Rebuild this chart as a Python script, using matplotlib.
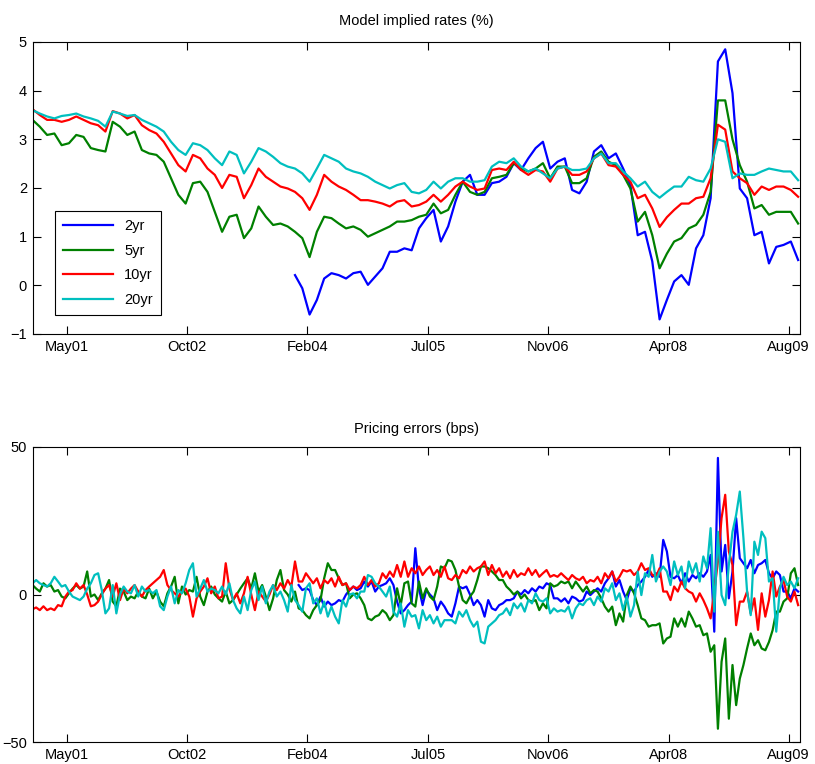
import numpy as np
import matplotlib
matplotlib.use("Agg")
import matplotlib.pyplot as plt

plt.rcParams['font.family'] = ['Liberation Sans', 'DejaVu Sans']

# monthly model implied rates (%), first point early Dec 2000
rate_start = 2000.94
rates_2yr = [np.nan] * 36 + [
    0.21, -0.06, -0.60, -0.30,
    0.14, 0.25, 0.21, 0.14, 0.25, 0.28, 0.01, 0.18, 0.35, 0.69,
    0.69, 0.76, 0.72, 1.17, 1.38, 1.55, 0.90, 1.21, 1.72, 2.13,
    2.27, 1.86, 1.86, 2.10, 2.13, 2.23, 2.51, 2.37, 2.61, 2.82,
    2.95, 2.40, 2.54, 2.61, 1.96, 1.89, 2.13, 2.75, 2.88, 2.61,
    2.71, 2.40, 2.06, 1.03, 1.10, 0.49, -0.70, -0.30, 0.08, 0.21,
    0.01, 0.76, 1.03, 1.79, 4.60, 4.85, 3.95, 1.99, 1.79, 1.03,
    1.10, 0.45, 0.79, 0.83, 0.90, 0.52]
rates_5yr = [
    3.40, 3.26, 3.09, 3.12, 2.88, 2.92, 3.09, 3.05, 2.82, 2.78,
    2.75, 3.36, 3.26, 3.09, 3.16, 2.78, 2.71, 2.68, 2.54, 2.20,
    1.86, 1.68, 2.10, 2.13, 1.92, 1.51, 1.10, 1.41, 1.45, 0.97,
    1.17, 1.62, 1.41, 1.24, 1.27, 1.21, 1.10, 0.97, 0.58, 1.10,
    1.41, 1.38, 1.27, 1.17, 1.21, 1.14, 1.00, 1.07, 1.14, 1.21,
    1.31, 1.31, 1.34, 1.41, 1.45, 1.68, 1.48, 1.55, 1.86, 2.13,
    1.92, 1.86, 1.92, 2.20, 2.23, 2.27, 2.51, 2.40, 2.34, 2.40,
    2.51, 2.20, 2.44, 2.44, 2.10, 2.10, 2.20, 2.64, 2.75, 2.54,
    2.47, 2.27, 1.99, 1.31, 1.51, 1.03, 0.35, 0.65, 0.90, 0.97,
    1.17, 1.24, 1.45, 1.92, 3.80, 3.80, 3.00, 2.47, 2.13, 1.58,
    1.65, 1.45, 1.51, 1.51, 1.51, 1.27]
rates_10yr = [
    3.62, 3.50, 3.40, 3.40, 3.36, 3.40, 3.47, 3.40, 3.33, 3.29,
    3.16, 3.58, 3.53, 3.43, 3.50, 3.29, 3.19, 3.12, 2.95, 2.71,
    2.47, 2.34, 2.68, 2.61, 2.40, 2.27, 2.00, 2.27, 2.23, 1.79,
    2.06, 2.40, 2.23, 2.13, 2.03, 1.99, 1.92, 1.79, 1.55, 1.86,
    2.27, 2.13, 2.03, 1.96, 1.86, 1.75, 1.75, 1.72, 1.68, 1.62,
    1.72, 1.75, 1.62, 1.65, 1.72, 1.86, 1.72, 1.86, 2.03, 2.13,
    2.03, 1.96, 1.99, 2.37, 2.40, 2.37, 2.54, 2.37, 2.27, 2.37,
    2.34, 2.13, 2.40, 2.44, 2.27, 2.27, 2.34, 2.61, 2.71, 2.47,
    2.44, 2.27, 2.13, 1.79, 1.86, 1.58, 1.20, 1.40, 1.55, 1.68,
    1.68, 1.79, 1.82, 2.20, 3.30, 3.20, 2.34, 2.20, 2.10, 1.86,
    2.03, 1.96, 2.03, 2.03, 1.96, 1.82]
rates_20yr = [
    3.60, 3.53, 3.47, 3.43, 3.48, 3.50, 3.53, 3.47, 3.43, 3.38,
    3.26, 3.57, 3.53, 3.48, 3.50, 3.40, 3.33, 3.26, 3.16, 2.95,
    2.78, 2.68, 2.92, 2.88, 2.78, 2.61, 2.47, 2.75, 2.68, 2.30,
    2.54, 2.82, 2.75, 2.64, 2.51, 2.44, 2.40, 2.30, 2.13, 2.40,
    2.68, 2.61, 2.54, 2.40, 2.34, 2.30, 2.23, 2.13, 2.06, 1.99,
    2.06, 2.10, 1.92, 1.89, 1.96, 2.13, 1.99, 2.13, 2.20, 2.20,
    2.13, 2.13, 2.16, 2.44, 2.54, 2.51, 2.61, 2.44, 2.34, 2.40,
    2.30, 2.20, 2.40, 2.44, 2.37, 2.37, 2.40, 2.61, 2.71, 2.51,
    2.51, 2.34, 2.20, 2.03, 2.13, 1.92, 1.80, 1.92, 2.03, 2.03,
    2.23, 2.16, 2.13, 2.40, 3.00, 2.95, 2.20, 2.30, 2.27, 2.27,
    2.34, 2.40, 2.37, 2.34, 2.34, 2.16]

# half-monthly pricing errors (bps)
err_2yr = [np.nan] * 73 + [
    3.2, 1.5, 2.1, 1.5, -1.9, -3.6, -0.7, -4.1, -2.4, -3.6,
    -3, -1.9, -2.4, 0, 1.5, 2.7, 1.5, 2.1, 4.4, 2.7,
    4.4, 1, 2.7, 3.2, 3.8, 5.5, 3.2, -2.4, -6.4, -5.3,
    -3.6, -2.4, 15.7, 2.1, -3.6, 1.5, 0, -1.3, -5.3, -2.4,
    -4.1, -6.4, -7.5, -3, 2.7, 2.1, 2.7, 0, -3.6, -1.9,
    -3.6, -7.5, -1.9, -4.7, -5.3, -3.6, -3, -1.9, -1.9, -1.3,
    1, 0, 1.5, 0.4, 2.1, 1, 2.7, 2.1, 3.8,
    3.2, -1.3, -1.3, -2.4, -1.3, -3, -0.7, -1.3, -2.4,
    -1.9, 1, -0.2, 1, 2.1, 1, 3.8, 5.5, 7.8, 2.7,
    4.9, 1, -1.9, 2.1, 1, 3.2, 4.4, 6, 8.3, 6,
    7.2, 6, 18.5, 14.6, 6, 5.5, 6.6, 3.8, 7.2, 4.4,
    6.6, 5.5, 7.2, 6, 7.8, 13.4, -12.6, 46.3, 7.8, 16.8,
    -1.3, 7.8, 25.9, 12.3, 10.6, 8.9, 11.7, 7.2, 10, 10.6,
    11.7, 7.2, 5.5, 7.8, 6.6, 1, 1, -1.3, 2.1, 1]
err_5yr = [
    3.2, 2, 1, 3.8, 2.7, 3.2, 1, 1.5, -0.7, -1.3,
    0.4, 2, 3.2, 2, 2.7, 7.8, -0.7, 0, -1.9, 0.4,
    2, 4.9, -2.4, -4, 2, 1, -1.9, -0.7, -1.3, 1,
    -0.7, -1.3, 2, -1.3, 1, -2.4, -4, 0.4, 2.7, 6,
    -3, 2.7, 0, 1.5, 1, 6, -0.7, -3.6, 1, 2.7,
    0, -1.3, -2.4, 1, -3, -1.9, 0, 2, 3.8, 5.5,
    2, 7.2, 1, 3.2, -0.7, -5.3, -1.3, 4.9, 8.3, 1.5,
    0,
    -2.4, 1, -4.7, -5.3, -7, -8.1, -5.3, -3.6, -1.9, 5.5,
    10.6, 8.3, 8.3, 5.5, 3.2, 3.8, -1.3, 0, 0.4, -1.3,
    -3.6, -8.1, -8.7, -7.5, -7, -5.3, -6.4, -8.7, -7, 2.1,
    -3.6, 3.8, 4.4, -3, -4.1, 4.4, -1.3, 2.1, -0.7, -1.9,
    2.7, 9.5, 8.9, 11.7, 11.2, 8.3, 2.7, -1.9, -3, -0.7,
    1, 4.9, 9.5, 9.5, 8.9, 7.8, 6.6, 4.9, 4.9, 2.7,
    1.5, 0, 1, -1.3, 0, -1.9, -2.4, -1.9, -5.3, -3,
    -4.7,
    3.8, 2.7, 3.2, 4.4, 3.8, 4.4, 2.1, 4.4, 2.7,
    1, 2.7, 0.4, 1.5, 1, -1.3, -4.1, -5.8, -4.1, -10.4,
    -6.4, -9.2, -0.2, 2.7, 0.4, -3.6, -8.1, -8.7, -10.9, -10.4,
    -10.4, -9.8, -16.6, -14.9, -14.3, -8.1, -10.9, -8.1, -10.9, -5.8,
    -8.1, -10.9, -10.4, -13.8, -13.2, -19.4, -17.2, -45.5, -22.8, -14.9,
    -42.1, -23.9, -37.5, -28.5, -23.9, -18.3, -13.2, -17.2, -15.5, -18.3,
    -18.9, -16.1, -12.1, -5.8, -5.8, -2.4, -1.3, 7.2, 8.9, 3.2]
err_10yr = [
    -5, -4.4, -5.3, -4, -5.3, -4.7, -5.3, -3.6, -4, -0.7,
    1, 1.5, 3.8, 2, 3.2, 0, -4, -3.6, -2.4, 0,
    2, 3.2, -0.7, 3.8, -1.9, 2, 0.4, 2, 3.2, 1,
    -0.7, 1.5, 2.7, 3.8, 4.9, 6, 8.3, 3.2, 1.5, 0.4,
    -0.7, 1, 2, -0.7, -7.5, -1.3, 1, 2.7, 5.5, 0.4,
    2.7, -1.3, -0.7, 10.6, 2, -1.9, 0.4, -3, 0.4, 6,
    0, -5.3, 1, -0.7, -2.4, 0, 3.2, 1.5, 3.8, 2,
    4.9,
    2.7, 11.2, 4.4, 4.4, 7.2, 5.5, 3.8, 5.5, 2.1, 4.9,
    3.8, 5.5, 2.7, 6, 3.2, 3.8, 1.5, 2.7, 2.1, 3.2,
    6, 3.2, 4.9, 2.7, 3.8, 7.2, 5.5, 7.8, 6, 10,
    6, 11.2, 6, 8.9, 7.2, 9.5, 6.6, 8.3, 9.5, 6.6,
    8.3, 6, 9.5, 5.5, 4.9, 6.6, 5.5, 8.3, 7.2, 9.5,
    7.8, 8.9, 9.5, 11.2, 6.6, 10, 7.2, 8.9, 6, 7.8,
    5.5, 8.3, 6, 7.2, 6.6, 8.9, 6.6, 8.3, 6, 7.2,
    8.3,
    6, 6.6, 6, 7.2, 6, 4.9, 6.6, 5.5, 4.9,
    6, 3.8, 4.9, 4.4, 6, 3.8, 7.2, 5.5, 7.8, 4.4,
    6, 8.3, 7.8, 8.3, 6.6, 7.8, 10.6, 8.3, 8.9, 6.6,
    6, 8.9, 1, 1, -1.9, 2.7, 1, 4.4, 2.1, 1,
    0.4, -2.4, 0.4, -1.9, -4.7, -8.1, 1, 11.2, 25.9, 33.8,
    14.6, 10, -10.4, -2.4, -2.4, 1, -6.4, -1.3, -12, 0.4,
    -7.5, -1.9, 7.8, -0.7, 2.7, 4.9, -0.7, -2.4, 1, -3.6]
err_20yr = [
    3.8, 4.9, 3.8, 3.2, 2.7, 3.8, 6, 4.4, 2.7, 3.2,
    1, -0.7, -1.3, -1.9, -0.7, 2, 3.8, 6.6, 7.2, 1.5,
    -6.4, -4.7, 3.2, -6.4, 0, 2.7, 1, 0.4, 3.2, -0.7,
    2.7, 1, 1.5, 0.4, 1.5, -4, -5.3, -0.7, 2.7, -3,
    1.5, 0.4, 3.8, 8.3, 10.6, -0.7, 2, 4.9, 1, 2,
    1.5, 0.4, 2.7, 0, 3.8, -1.9, -4.7, -6.4, -0.7, -5.3,
    1.5, 4.4, -1.9, 2.7, -3, 1, 3.2, -0.7, 1, -1.9,
    -5.8,
    3.2, -1.9, -3.6, -5.8, 2.1, 3.8, -3, -1.3, -6.4, -2.4,
    -7.5, -4.1, -7.5, -9.8, -1.9, -4.1, 0, 0.4, -1.3, 1,
    1, 6.6, 6, 3.8, 2.7, 1, -0.7, 2.7, -5.8, -7.5,
    -3, -10.9, -5.3, -7.5, -7, -11.5, -5.3, -8.7, -7, -9.8,
    -7.5, -10.9, -8.7, -8.7, -8.7, -9.8, -5.8, -7.5, -5.3, -8.7,
    -10.9, -9.2, -16, -16.6, -10.9, -9.8, -8.7, -7, -6.4, -4.7,
    -7, -3, -4.7, -3, -5.8, -1.9, -3, 0.4, -1.9, -2.4,
    -1.3,
    -6.4, -4.7, -5.8, -5.3, -5.8, -4.1, -8.1, -4.7, -3,
    -3.6, -1.9, -1.3, -3.6, -0.7, -2.4, 2.1, 1, 3.8, -1.9,
    0.4, -5.3, -0.7, -7.5, -3.6, 7.8, -0.2, 7.2, 6, 13.4,
    4.4, 7.8, 9.5, 7.8, 3.2, 11.2, 6.6, 9.5, 2.1, 11.2,
    7.2, 10.6, 4.4, 12.9, 8.9, 22.5, -5.8, 21.3, -0.2, -3.6,
    10, 21.3, 27, 34.9, 19.1, 1, -7, 17.9, 13.4, 21.3,
    19.1, 4.4, 5.5, -12.6, 2.1, 6, 3.2, 4.4, 2.1, 5.5]

labels = ['2yr', '5yr', '10yr', '20yr']
colors = ['#0000ff', '#008000', '#ff0000', '#00bfbf']
tick_labels = ['May01', 'Oct02', 'Feb04', 'Jul05', 'Nov06', 'Apr08', 'Aug09']
tick_years = [2001.33, 2002.71, 2004.08, 2005.46, 2006.83, 2008.21, 2009.58]

t_rates = rate_start + np.arange(len(rates_5yr)) / 12
t_err = rate_start + np.arange(len(err_5yr)) / 24
xlim = (rate_start, rate_start + 767 / 87.5)

W, H = 815, 764
fig = plt.figure(figsize=(W / 100, H / 100), dpi=100)
ax1 = fig.add_axes([32.5 / W, 1 - 334 / H, 767 / W, 292 / H])
ax2 = fig.add_axes([32.5 / W, 1 - 742 / H, 767 / W, 295 / H])

for ys, c, lab in zip([rates_2yr, rates_5yr, rates_10yr, rates_20yr], colors, labels):
    ax1.plot(t_rates, ys, color=c, lw=1.6, label=lab)
for ys, c in zip([err_2yr, err_5yr, err_10yr, err_20yr], colors):
    ax2.plot(t_err, ys, color=c, lw=1.6)

ax1.set_ylim(-1, 5)
ax1.set_yticks(range(-1, 6))
ax2.set_ylim(-50, 50)
ax2.set_yticks([-50, 0, 50])
ax1.set_title('Model implied rates (%)', fontsize=10.5, pad=12)
ax2.set_title('Pricing errors (bps)', fontsize=10.5, pad=10)

for ax in (ax1, ax2):
    ax.set_xlim(*xlim)
    ax.set_xticks(tick_years)
    ax.set_xticklabels(tick_labels)
    ax.tick_params(direction='in', top=True, right=True, length=5.5, width=0.8,
                   labelsize=10.5, pad=4)
    for s in ax.spines.values():
        s.set_linewidth(0.8)

leg = ax1.legend(loc='lower left', bbox_to_anchor=(0.0293, 0.065), borderaxespad=0,
                 fancybox=False, framealpha=1, edgecolor='black', fontsize=10.5,
                 handlelength=3.4, labelspacing=0.72, borderpad=0.55)
leg.get_frame().set_linewidth(0.8)

fig.savefig('out.png', dpi=100)
